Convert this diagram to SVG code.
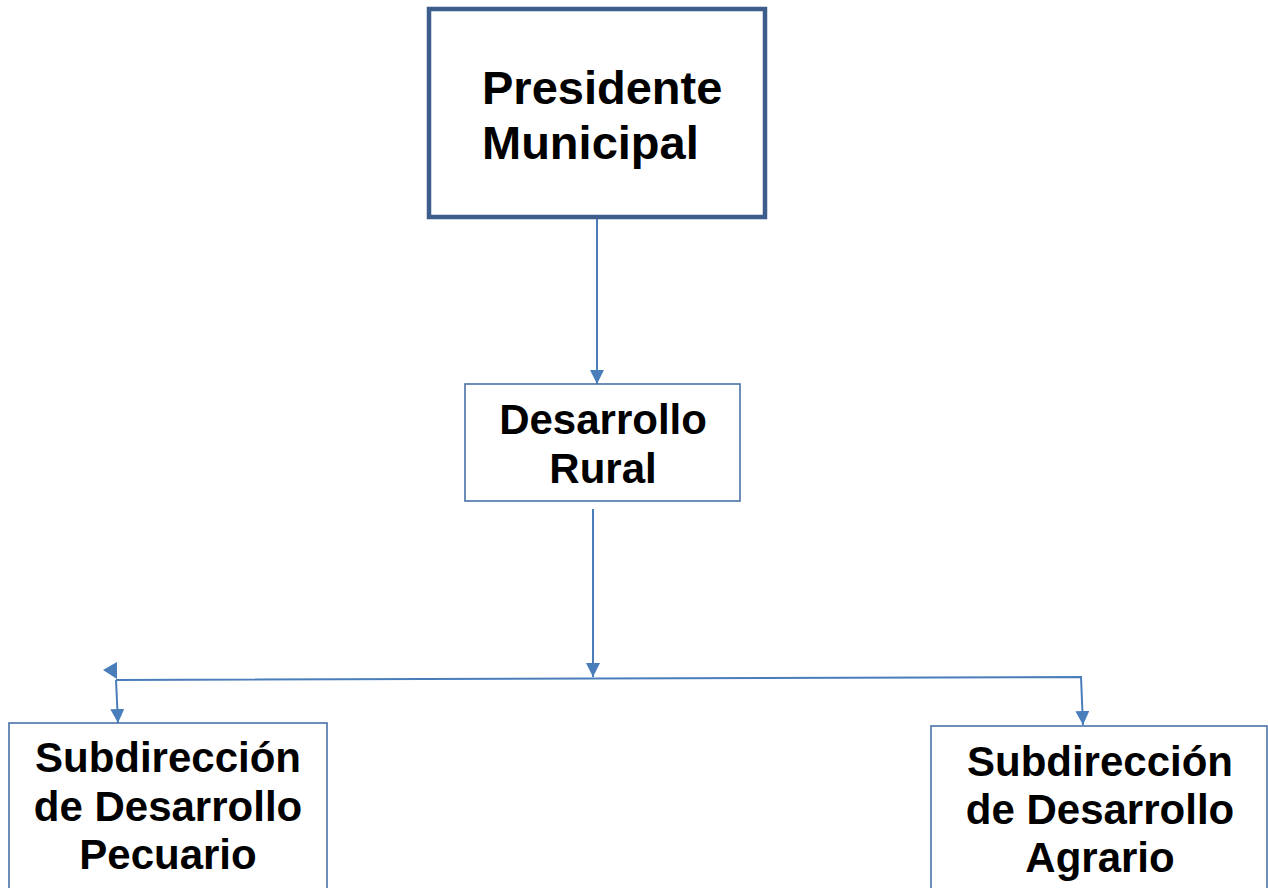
<svg xmlns="http://www.w3.org/2000/svg" width="1268" height="888" viewBox="0 0 1268 888">
<style>
.box{fill:#fff;stroke:#4a72a8;stroke-width:1.6}
.top{fill:#fff;stroke:#3d5e8c;stroke-width:4.5}
.lbl{font-family:"Liberation Sans",Arial,sans-serif;font-weight:bold;fill:#000}
.c{fill:none;stroke:#4a7ebb;stroke-width:2}
</style>
<defs>
<marker id="ah" viewBox="0 0 10 10" refX="10" refY="5" markerWidth="7" markerHeight="7" orient="auto" markerUnits="strokeWidth">
<path d="M0,0 L10,5 L0,10 z" fill="#4a7ebb"/>
</marker>
</defs>
<rect width="1268" height="888" fill="#fff"/>
<g id="connectors">
<line class="c" x1="597" y1="217" x2="597" y2="384" marker-end="url(#ah)"/>
<line class="c" x1="593" y1="509" x2="593" y2="677" marker-end="url(#ah)"/>
<polyline class="c" points="116,680 1081,677 1083,725" marker-end="url(#ah)"/>
<line class="c" x1="116" y1="680" x2="118" y2="723" marker-end="url(#ah)"/>
<path d="M103,670 L117,662 L117,679 z" fill="#4a7ebb"/>
</g>
<g id="presidente">
<rect class="top" x="429" y="9" width="336" height="208"/>
<text class="lbl" font-size="47" x="482" y="104">Presidente</text>
<text class="lbl" font-size="47" x="482" y="159">Municipal</text>
</g>
<g id="desarrollo-rural">
<rect class="box" x="465" y="384" width="275" height="117"/>
<text class="lbl" font-size="42" text-anchor="middle" x="603" y="434">Desarrollo</text>
<text class="lbl" font-size="42" text-anchor="middle" x="603" y="483">Rural</text>
</g>
<g id="pecuario">
<rect class="box" x="9" y="723" width="318" height="175"/>
<text class="lbl" font-size="42" text-anchor="middle" x="168" y="772">Subdirección</text>
<text class="lbl" font-size="42" text-anchor="middle" x="168" y="821">de Desarrollo</text>
<text class="lbl" font-size="42" text-anchor="middle" x="168" y="869">Pecuario</text>
</g>
<g id="agrario">
<rect class="box" x="931" y="726" width="336" height="175"/>
<text class="lbl" font-size="42" text-anchor="middle" x="1100" y="776">Subdirección</text>
<text class="lbl" font-size="42" text-anchor="middle" x="1100" y="824">de Desarrollo</text>
<text class="lbl" font-size="42" text-anchor="middle" x="1100" y="872">Agrario</text>
</g>
</svg>
